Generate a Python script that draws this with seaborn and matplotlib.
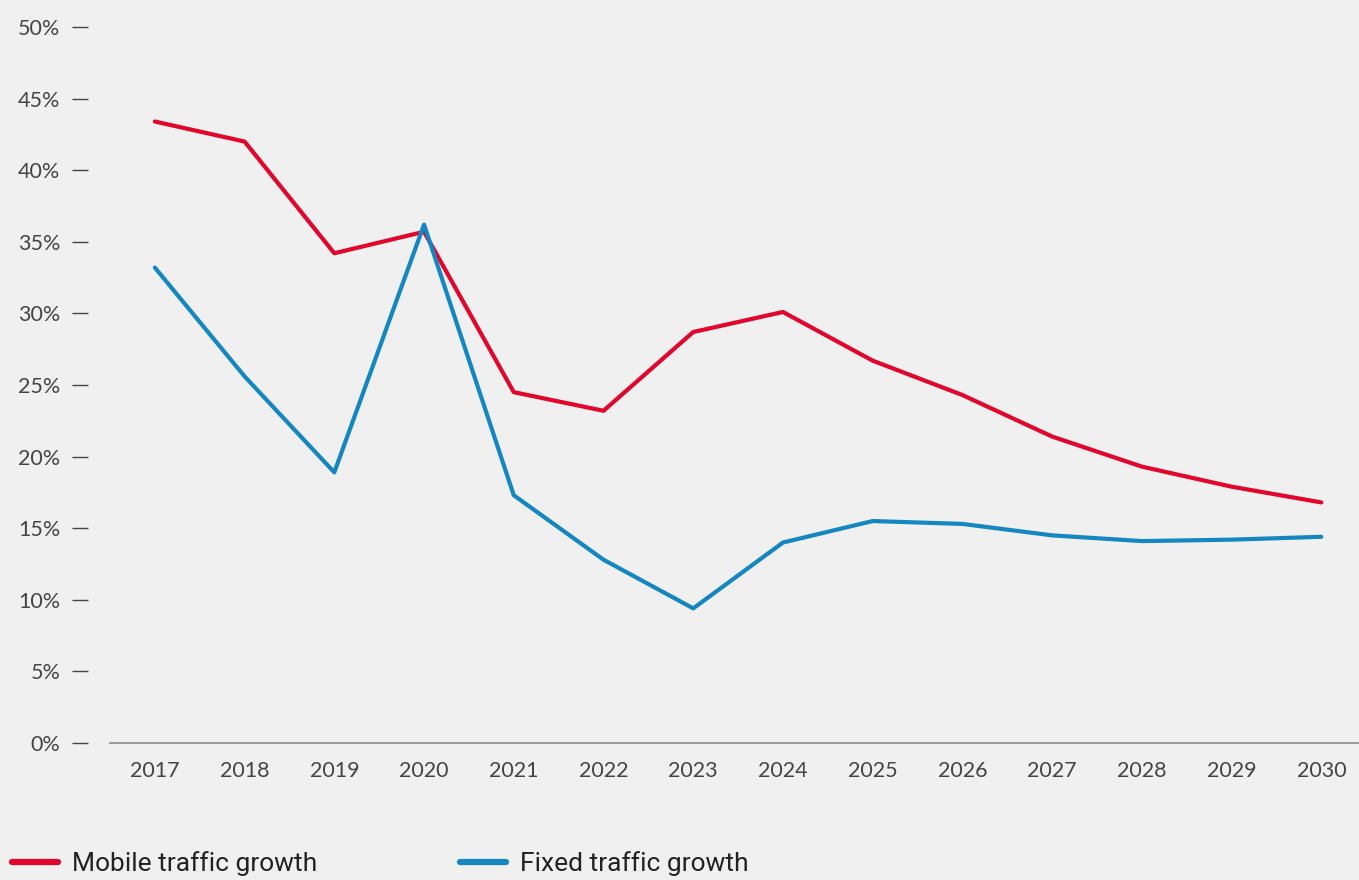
import matplotlib
matplotlib.use("Agg")
import matplotlib.pyplot as plt
import seaborn as sns
import pandas as pd
from matplotlib.lines import Line2D

years = [2017, 2018, 2019, 2020, 2021, 2022, 2023, 2024, 2025, 2026, 2027, 2028, 2029, 2030]
mobile = [43.4, 42.0, 34.2, 35.7, 24.5, 23.2, 28.7, 30.1, 26.7, 24.3, 21.4, 19.3, 17.9, 16.8]
fixed = [33.2, 25.6, 18.9, 36.2, 17.3, 12.8, 9.4, 14.0, 15.5, 15.3, 14.5, 14.1, 14.2, 14.4]
series_names = ["Mobile traffic growth", "Fixed traffic growth"]
yticks = [0, 5, 10, 15, 20, 25, 30, 35, 40, 45, 50]

df = pd.DataFrame({
    "year": years * 2,
    "value": mobile + fixed,
    "series": [series_names[0]] * len(years) + [series_names[1]] * len(years),
})

sns.set_theme(style="white")
plt.rcParams["font.family"] = ["Lato", "DejaVu Sans"]
bg = "#f0f0f0"
fig = plt.figure(figsize=(13.59, 8.80), dpi=100, facecolor=bg)
ax = fig.add_axes([110 / 1359, 1 - 743 / 880, 1 - 110 / 1359, (743 - 27) / 880])
ax.set_facecolor(bg)

palette = {series_names[0]: "#e2062c", series_names[1]: "#1486c0"}
sns.lineplot(data=df, x="year", y="value", hue="series", palette=palette,
             linewidth=3.0, ax=ax, legend=False, solid_capstyle="round")

ax.set_xlim(2016.5, 2030.42)
ax.set_ylim(0, 50)
ax.set_xticks(years)
ax.set_xticklabels([str(y) for y in years])
ax.set_yticks(yticks)
ax.set_yticklabels([f"{v}%" for v in yticks])
ax.set_xlabel("")
ax.set_ylabel("")

for s in ["top", "right"]:
    ax.spines[s].set_visible(False)
ax.spines["left"].set_position(("outward", 15.8))
ax.spines["left"].set_visible(False)
ax.spines["bottom"].set_color("#8a8a8a")
ax.spines["bottom"].set_linewidth(1.2)

ax.tick_params(axis="y", length=11.5, width=1.0, color="#444444", pad=8.5,
               labelsize=15.5, labelcolor="#444444", left=True, direction="out")
ax.tick_params(axis="x", length=0, pad=13, labelsize=15.5, labelcolor="#444444")

handles = [Line2D([0], [0], color=palette[n], lw=4.5, solid_capstyle="round") for n in series_names]
leg = fig.legend(handles, series_names, loc="center left",
                 bbox_to_anchor=(12 / 1359, 1 - 864 / 880), ncol=2, frameon=False,
                 prop={"family": "Roboto", "size": 19}, handlelength=1.74,
                 handletextpad=0.53, columnspacing=5.4, borderaxespad=0, borderpad=0)
for t in leg.get_texts():
    t.set_color("#222222")

fig.savefig("out.png", dpi=100, facecolor=bg)
